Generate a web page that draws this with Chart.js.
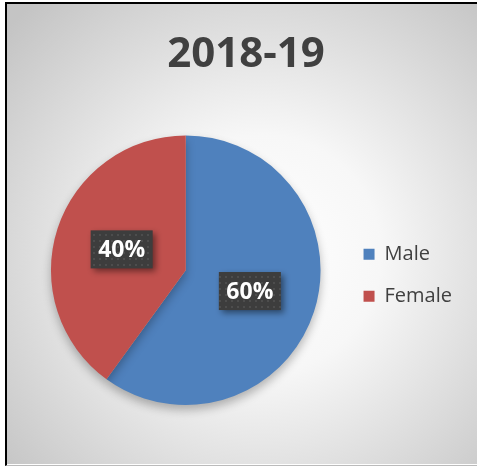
<!DOCTYPE html>
<html>
<head>
<meta charset="utf-8">
<script src="https://cdn.jsdelivr.net/npm/chart.js@4/dist/chart.umd.min.js"></script>
<style>
  body { margin: 0; background: #fff; }
  #wrap {
    position: absolute; left: 5px; top: 2px;
    width: 472px; height: 461px;
    border-left: 2px solid #000; border-top: 2px solid #000;
    border-bottom: 1px solid #bbb;
  }
  canvas { display: block; }
</style>
</head>
<body>
<div id="wrap"><canvas id="pie" width="470" height="460"></canvas></div>
<script>
// data
const categories = ["Male", "Female"];
const shares = [60, 40];
const sliceColors = ["#4F81BD", "#C0504D"];
const chartTitle = "2018-19";

const FONT = "'Open Sans', 'Liberation Sans', sans-serif";

// gradient backdrop like the office chart style
const backdrop = {
  id: "backdrop",
  beforeDraw(chart) {
    const { ctx, width, height } = chart;
    const g = ctx.createRadialGradient(255, 250, 0, 255, 250, 340);
    g.addColorStop(0, "#ffffff");
    g.addColorStop(0.35, "#f7f7f7");
    g.addColorStop(1, "#c4c4c4");
    ctx.save();
    ctx.fillStyle = g;
    ctx.fillRect(0, 0, width, height);
    ctx.restore();
  },
  beforeDatasetsDraw(chart) {
    const ctx = chart.ctx;
    ctx.save();
    ctx.shadowColor = "rgba(0,0,0,0.28)";
    ctx.shadowBlur = 10;
    ctx.shadowOffsetY = 5;
  },
  afterDatasetsDraw(chart) {
    chart.ctx.restore();
  }
};

function dottedPattern(ctx) {
  const c = document.createElement("canvas");
  c.width = 6; c.height = 6;
  const p = c.getContext("2d");
  p.fillStyle = "#3d3d3d";
  p.fillRect(0, 0, 6, 6);
  p.fillStyle = "#4d4d4d";
  p.fillRect(2, 2, 2, 2);
  return ctx.createPattern(c, "repeat");
}

// percentage boxes in the middle of each slice
const sliceLabels = {
  id: "sliceLabels",
  afterDatasetsDraw(chart) {
    const { ctx } = chart;
    const meta = chart.getDatasetMeta(0);
    const total = shares.reduce((a, b) => a + b, 0);
    const fill = dottedPattern(ctx);
    meta.data.forEach((arc, i) => {
      const pos = arc.getCenterPoint();
      const text = Math.round(shares[i] / total * 100) + "%";
      ctx.save();
      ctx.font = "bold 23px " + FONT;
      const w = ctx.measureText(text).width + 15;
      const h = 38;
      ctx.shadowColor = "rgba(0,0,0,0.45)";
      ctx.shadowBlur = 6;
      ctx.shadowOffsetX = 3;
      ctx.shadowOffsetY = 3;
      ctx.fillStyle = fill;
      ctx.fillRect(pos.x - w / 2, pos.y - h / 2, w, h);
      ctx.shadowColor = "transparent";
      ctx.fillStyle = "#ffffff";
      ctx.textAlign = "center";
      ctx.textBaseline = "middle";
      ctx.fillText(text, pos.x, pos.y + 1);
      ctx.restore();
    });
  }
};

new Chart(document.getElementById("pie"), {
  type: "pie",
  data: {
    labels: categories,
    datasets: [
      {
        data: shares,
        backgroundColor: sliceColors,
        borderWidth: 0,
        hoverOffset: 0,
      },
    ],
  },
  options: {
    responsive: false,
    animation: false,
    events: [],
    layout: { padding: { left: 23, right: 15, top: 0, bottom: 59 } },
    plugins: {
      title: {
        display: true,
        text: chartTitle,
        color: "#404040",
        font: { family: FONT, size: 42, weight: "bold" },
        padding: { top: 26, bottom: 55 },
      },
      legend: {
        position: "right",
        fullSize: false,
        title: { display: true, text: "", font: { size: 5 }, padding: { top: 2, bottom: 2 } },
        labels: {
          color: "#404040",
          font: { family: FONT, size: 20 },
          boxWidth: 11,
          boxHeight: 11,
          padding: 22,
        },
      },
      tooltip: { enabled: false },
    },
  },
  plugins: [backdrop, sliceLabels],
});
</script>
</body>
</html>
